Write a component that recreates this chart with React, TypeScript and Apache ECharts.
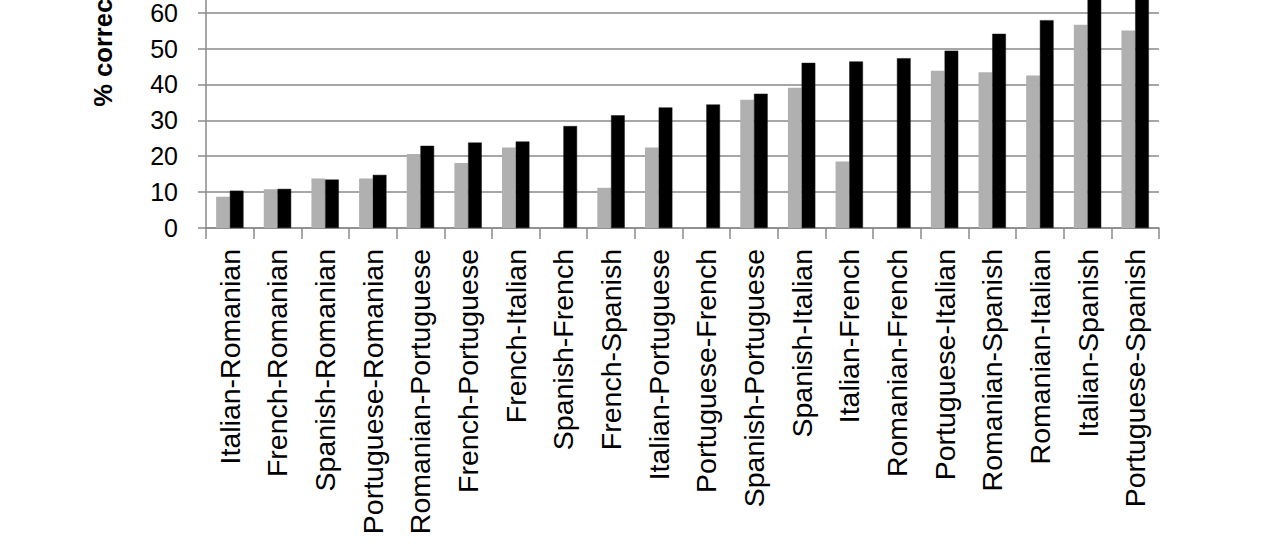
import React, { useEffect, useRef } from "react";
import * as echarts from "echarts";

const categories = [
  "Italian-Romanian",
  "French-Romanian",
  "Spanish-Romanian",
  "Portuguese-Romanian",
  "Romanian-Portuguese",
  "French-Portuguese",
  "French-Italian",
  "Spanish-French",
  "French-Spanish",
  "Italian-Portuguese",
  "Portuguese-French",
  "Spanish-Portuguese",
  "Spanish-Italian",
  "Italian-French",
  "Romanian-French",
  "Portuguese-Italian",
  "Romanian-Spanish",
  "Romanian-Italian",
  "Italian-Spanish",
  "Portuguese-Spanish",
];

const grayValues = [
  8.7, 10.8, 13.8, 13.8, 20.6, 18.1, 22.4, 0, 11.2, 22.4,
  0, 35.7, 39.1, 18.5, 0, 43.8, 43.4, 42.5, 56.6, 55.0,
];

const blackValues = [
  10.4, 10.9, 13.5, 14.8, 22.9, 23.8, 24.1, 28.4, 31.4, 33.6,
  34.4, 37.4, 46.0, 46.4, 47.3, 49.4, 54.1, 57.9, 66.0, 69.0,
];

const yTicks = [0, 10, 20, 30, 40, 50, 60, 70, 80, 90, 100];

const FONT = "'Liberation Sans', Arial, sans-serif";

// The reference is a crop of a taller chart: its y axis runs above the top edge.
const HIDDEN_TOP = 131;

export default function App() {
  const ref = useRef<HTMLDivElement>(null);

  useEffect(() => {
    if (!ref.current) return;
    const chart = echarts.init(ref.current, undefined, { renderer: "svg" });
    const lineColor = "#8a8a8a";
    chart.setOption({
      animation: false,
      backgroundColor: "#ffffff",
      textStyle: { fontFamily: FONT },
      grid: {
        left: 206,
        right: 121,
        top: 0,
        bottom: 318,
        containLabel: false,
        outerBoundsMode: "none",
      },
      xAxis: {
        type: "category",
        data: categories,
        boundaryGap: true,
        axisLine: { show: true, lineStyle: { color: lineColor, width: 1.5 } },
        axisTick: {
          show: true,
          length: 11,
          alignWithLabel: false,
          lineStyle: { color: lineColor, width: 1.5 },
        },
        axisLabel: {
          interval: 0,
          rotate: 90,
          margin: 21,
          color: "#000000",
          fontSize: 28.5,
          fontFamily: FONT,
        },
        splitLine: { show: false },
      },
      yAxis: {
        type: "value",
        min: yTicks[0],
        max: yTicks[yTicks.length - 1],
        interval: 10,
        name: "% correct",
        nameLocation: "middle",
        nameGap: 90,
        nameRotate: 90,
        nameTextStyle: {
          color: "#000000",
          fontSize: 25.6,
          fontWeight: "bold",
          fontFamily: FONT,
        },
        axisLine: { show: true, lineStyle: { color: lineColor, width: 1.5 } },
        axisTick: {
          show: true,
          inside: false,
          length: 8,
          lineStyle: { color: lineColor, width: 1.5 },
        },
        axisLabel: {
          margin: 28,
          color: "#000000",
          fontSize: 25,
          fontFamily: FONT,
        },
        splitLine: { show: true, lineStyle: { color: lineColor, width: 1.5 } },
      },
      series: [
        {
          name: "Gray",
          type: "bar",
          data: grayValues,
          barWidth: 13.7,
          barGap: "0%",
          itemStyle: { color: "#b0b0b0" },
        },
        {
          name: "Black",
          type: "bar",
          data: blackValues,
          barWidth: 13.7,
          barGap: "0%",
          itemStyle: { color: "#000000", borderColor: "#1a1a1a", borderWidth: 0.5 },
        },
      ],
    });
    return () => chart.dispose();
  }, []);

  return (
    <div
      style={{
        position: "absolute",
        left: 0,
        top: 0,
        width: 1280,
        height: 546,
        overflow: "hidden",
        background: "#ffffff",
      }}
    >
      <div
        ref={ref}
        style={{
          position: "absolute",
          left: 0,
          top: -HIDDEN_TOP,
          width: 1280,
          height: 546 + HIDDEN_TOP,
        }}
      />
    </div>
  );
}
